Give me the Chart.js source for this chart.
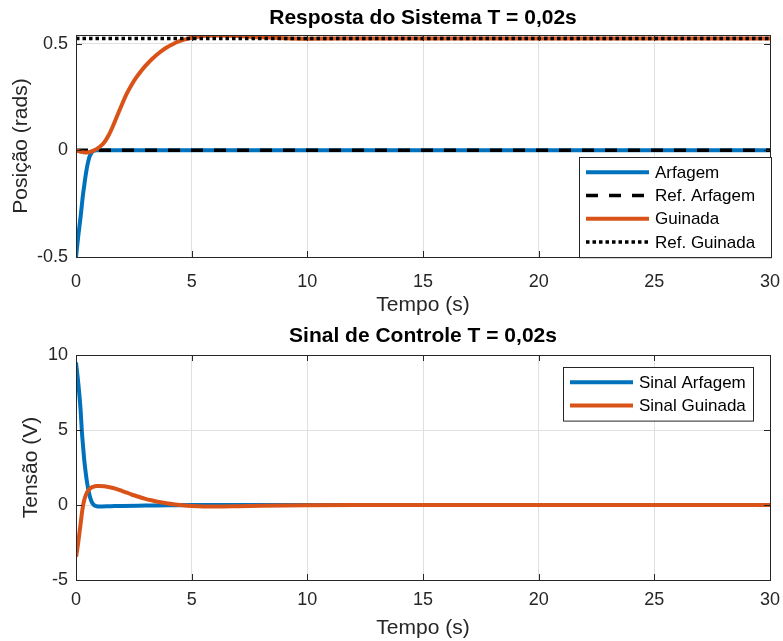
<!DOCTYPE html>
<html>
<head>
<meta charset="utf-8">
<script src="https://cdn.jsdelivr.net/npm/chart.js@4.4.1/dist/chart.umd.min.js"></script>
<style>
  body { margin: 0; background: #fff; }
  #wrap { position: relative; width: 783px; height: 641px; }
  .panel { position: absolute; left: 0; width: 783px; }
</style>
</head>
<body>
<div id="wrap">
  <div class="panel" style="top:0;height:320px"><canvas id="resposta"></canvas></div>
  <div class="panel" style="top:320px;height:321px"><canvas id="controle"></canvas></div>
</div>
<script>
// --- dados ---
const tempoArfagem = [0, 0.05, 0.1, 0.15, 0.2, 0.25, 0.3, 0.35, 0.4, 0.45, 0.5, 0.55, 0.6, 0.65, 0.7, 0.8, 0.9, 30];
const arfagem = [-0.5, -0.45, -0.4, -0.355, -0.31, -0.26, -0.21, -0.17, -0.13, -0.095, -0.066, -0.043, -0.026, -0.015, -0.007, -0.001, 0, 0];

const tempoGuinada = [0, 0.2, 0.4, 0.6, 0.8, 1.0, 1.2, 1.4, 1.6, 1.8, 2.0, 2.2, 2.4, 2.6, 2.8, 3.0, 3.3, 3.6, 3.9, 4.2, 4.5, 4.8, 5.2, 5.6, 6.2, 7.0, 8.0, 9.0, 10, 12, 30];
const guinada = [0, -0.007, -0.011, -0.008, 0, 0.014, 0.034, 0.068, 0.114, 0.166, 0.218, 0.266, 0.306, 0.34, 0.369, 0.395, 0.429, 0.457, 0.48, 0.498, 0.512, 0.522, 0.531, 0.536, 0.538, 0.535, 0.529, 0.525, 0.523, 0.5236, 0.5236];

const tempoRef = [0, 30];
const refArfagem = [0, 0];
const refGuinada = [0.5236, 0.5236];

const tempoSinalArf = [0, 0.1, 0.2, 0.25, 0.3, 0.35, 0.4, 0.45, 0.5, 0.55, 0.6, 0.65, 0.7, 0.75, 0.8, 0.9, 1.0, 1.5, 2, 3, 4, 5, 30];
const sinalArfagem = [9.5, 8.1, 6.3, 5.0, 4.0, 3.1, 2.4, 1.8, 1.3, 0.9, 0.56, 0.32, 0.15, 0.04, -0.03, -0.08, -0.1, -0.08, -0.06, -0.04, -0.02, 0, 0];

const tempoSinalGui = [0, 0.05, 0.1, 0.15, 0.2, 0.25, 0.3, 0.35, 0.4, 0.45, 0.5, 0.6, 0.7, 0.8, 0.9, 1.0, 1.2, 1.4, 1.6, 1.8, 2.0, 2.2, 2.4, 2.6, 2.8, 3.0, 3.3, 3.6, 3.9, 4.2, 4.6, 5.0, 5.5, 6.0, 7.0, 8.0, 9.0, 10, 12, 30];
const sinalGuinada = [-3.45, -3.0, -2.45, -1.85, -1.25, -0.6, -0.08, 0.3, 0.55, 0.75, 0.9, 1.08, 1.19, 1.24, 1.27, 1.27, 1.25, 1.2, 1.13, 1.04, 0.93, 0.82, 0.7, 0.6, 0.5, 0.41, 0.3, 0.2, 0.12, 0.05, -0.02, -0.07, -0.1, -0.1, -0.08, -0.05, -0.03, -0.015, 0, 0];

const xTicks = [0, 5, 10, 15, 20, 25, 30];

const AZUL = '#0072BD';
const LARANJA = '#D95319';
const EIXO = '#262626';
const FONTE = '"Liberation Sans", Arial, sans-serif';

Chart.defaults.font.family = FONTE;
Chart.defaults.color = EIXO;

const pts = (t, v) => t.map((x, i) => ({ x, y: v[i] }));

// caixa dos eixos com marcas para dentro (estilo MATLAB)
const axesBox = {
  id: 'axesBox',
  afterDatasetsDraw(chart) {
    const { ctx, chartArea: a, scales: { x, y } } = chart;
    ctx.save();
    ctx.strokeStyle = EIXO;
    ctx.lineWidth = 1;
    ctx.strokeRect(Math.round(a.left) + 0.5, Math.round(a.top) + 0.5,
      Math.round(a.right - a.left), Math.round(a.bottom - a.top));
    ctx.beginPath();
    x.ticks.forEach(t => {
      const px = Math.round(x.getPixelForValue(t.value)) + 0.5;
      ctx.moveTo(px, a.bottom); ctx.lineTo(px, a.bottom - 6);
      ctx.moveTo(px, a.top); ctx.lineTo(px, a.top + 6);
    });
    y.ticks.forEach(t => {
      const py = Math.round(y.getPixelForValue(t.value)) + 0.5;
      ctx.moveTo(a.left, py); ctx.lineTo(a.left + 6, py);
      ctx.moveTo(a.right, py); ctx.lineTo(a.right - 6, py);
    });
    ctx.stroke();
    ctx.restore();
  }
};

// legenda dentro do gráfico
const boxLegend = {
  id: 'boxLegend',
  afterDraw(chart, args, opts) {
    const { ctx } = chart;
    const sets = chart.data.datasets;
    const rowH = 23.3, pad = 3.5;
    const h = sets.length * rowH + pad * 2;
    const left = opts.left, top = opts.top;
    ctx.save();
    ctx.fillStyle = '#fff';
    ctx.fillRect(left, top, opts.width, h);
    ctx.strokeStyle = EIXO;
    ctx.lineWidth = 1;
    ctx.strokeRect(left + 0.5, top + 0.5, opts.width, h);
    ctx.font = '17px ' + FONTE;
    ctx.textBaseline = 'middle';
    sets.forEach((ds, i) => {
      const cy = top + pad + rowH * i + rowH / 2;
      ctx.beginPath();
      ctx.strokeStyle = ds.borderColor;
      ctx.lineWidth = ds.borderWidth;
      ctx.setLineDash(ds.borderDash || []);
      ctx.moveTo(left + 7, cy);
      ctx.lineTo(left + 70, cy);
      ctx.stroke();
      ctx.setLineDash([]);
      ctx.fillStyle = '#000';
      ctx.fillText(ds.label, left + 76, cy + 1);
    });
    ctx.restore();
  }
};

function makeOptions(cfg) {
  return {
    responsive: true,
    maintainAspectRatio: false,
    animation: false,
    layout: { padding: { left: 0, right: 13, top: 0, bottom: 0 } },
    plugins: {
      legend: { display: false },
      tooltip: { enabled: false },
      title: {
        display: true,
        text: cfg.title,
        fullSize: false,
        color: '#000',
        font: { size: 21, weight: 'bold', lineHeight: 1.2 },
        padding: { top: cfg.titleTop, bottom: 35 - 25.2 - cfg.titleTop }
      },
      boxLegend: cfg.legend
    },
    scales: {
      x: {
        type: 'linear',
        min: 0, max: 30,
        afterBuildTicks: s => { s.ticks = xTicks.map(v => ({ value: v })); },
        afterFit: s => { s.height = cfg.xHeight; s.paddingLeft = 0; s.paddingRight = 0; },
        grid: { color: '#e0e0e0', drawTicks: false },
        border: { display: false },
        ticks: { font: { size: 18 }, padding: cfg.xTickPad, maxRotation: 0, color: EIXO },
        title: { display: true, text: 'Tempo (s)', font: { size: 21 }, padding: { bottom: cfg.xTitlePad }, color: EIXO }
      },
      y: {
        min: cfg.yMin, max: cfg.yMax,
        afterBuildTicks: s => { s.ticks = cfg.yTicks.map(v => ({ value: v })); },
        afterFit: s => { s.width = 76; },
        grid: { color: '#e0e0e0', drawTicks: false },
        border: { display: false },
        ticks: { font: { size: 18 }, padding: 8, color: EIXO, callback: v => String(v) },
        title: { display: true, text: cfg.yTitle, font: { size: 21 }, padding: { top: cfg.yTitlePad }, color: EIXO }
      }
    }
  };
}

const linha = (label, data, color, extra) => Object.assign({
  label, data,
  borderColor: color,
  backgroundColor: color,
  borderWidth: 4,
  pointRadius: 0,
  fill: false,
  cubicInterpolationMode: 'monotone'
}, extra || {});

new Chart(document.getElementById('resposta'), {
  type: 'line',
  data: {
    datasets: [
      linha('Arfagem', pts(tempoArfagem, arfagem), AZUL, { order: 4 }),
      linha('Ref. Arfagem', pts(tempoRef, refArfagem), '#000', { order: 3, borderDash: [12, 11], borderWidth: 3.5 }),
      linha('Guinada', pts(tempoGuinada, guinada), LARANJA, { order: 2 }),
      linha('Ref. Guinada', pts(tempoRef, refGuinada), '#000', { order: 1, borderDash: [3.5, 3], borderWidth: 3.5 })
    ]
  },
  options: makeOptions({
    title: 'Resposta do Sistema T = 0,02s',
    titleTop: 6,
    yTitle: 'Posição (rads)',
    yMin: -0.5, yMax: 0.54,
    yTicks: [-0.5, 0, 0.5],
    xHeight: 63,
    xTickPad: 14,
    xTitlePad: 2,
    yTitlePad: 9,
    legend: { left: 579, top: 157, width: 192 }
  }),
  plugins: [axesBox, boxLegend]
});

new Chart(document.getElementById('controle'), {
  type: 'line',
  data: {
    datasets: [
      linha('Sinal Arfagem', pts(tempoSinalArf, sinalArfagem), AZUL, { order: 2 }),
      linha('Sinal Guinada', pts(tempoSinalGui, sinalGuinada), LARANJA, { order: 1 })
    ]
  },
  options: makeOptions({
    title: 'Sinal de Controle T = 0,02s',
    titleTop: 4,
    yTitle: 'Tensão (V)',
    yMin: -5, yMax: 10,
    yTicks: [-5, 0, 5, 10],
    xHeight: 61,
    xTickPad: 9,
    xTitlePad: 0,
    yTitlePad: 19,
    legend: { left: 563, top: 47, width: 190 }
  }),
  plugins: [axesBox, boxLegend]
});
</script>
</body>
</html>
